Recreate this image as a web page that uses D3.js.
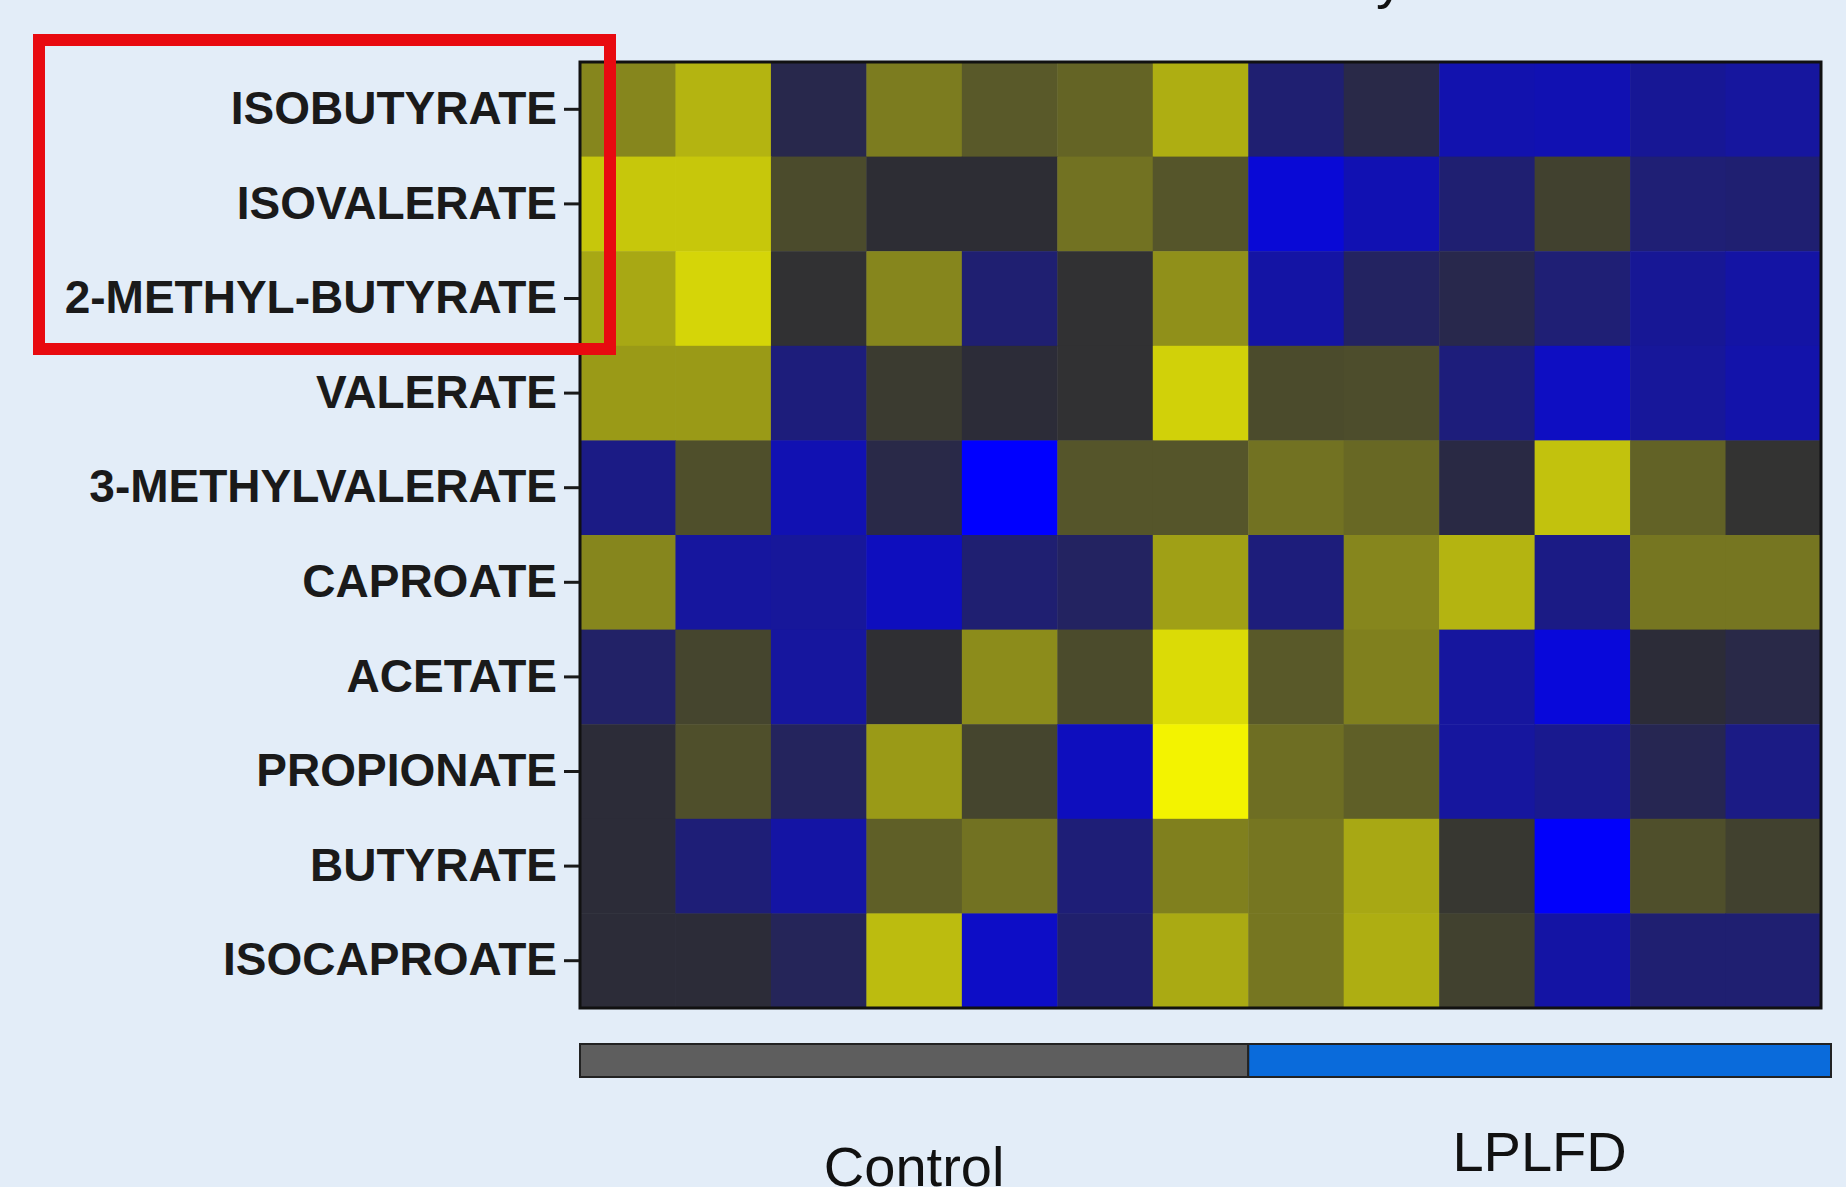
<!DOCTYPE html>
<html>
<head>
<meta charset="utf-8">
<script src="https://cdn.jsdelivr.net/npm/d3@7"></script>
<style>
  html, body { margin: 0; padding: 0; background: #e3edf8; }
  svg { display: block; }
  .axis text { font-family: Arial, "Liberation Sans", sans-serif; font-weight: bold; font-size: 46px; fill: #1a1a1a; }
  .axis line { stroke: #1a1a1a; stroke-width: 3; }
  .group-label { font-family: Arial, "Liberation Sans", sans-serif; font-size: 56px; fill: #111; }
</style>
</head>
<body>
<div id="chart"></div>
<script>
// rows (metabolites), top to bottom
var metabolites = ['ISOBUTYRATE', 'ISOVALERATE', '2-METHYL-BUTYRATE', 'VALERATE', '3-METHYLVALERATE',
  'CAPROATE', 'ACETATE', 'PROPIONATE', 'BUTYRATE', 'ISOCAPROATE']

// columns (samples), left to right
var samples = ['C1', 'C2', 'C3', 'C4', 'C5', 'C6', 'C7', 'L1', 'L2', 'L3', 'L4', 'L5', 'L6']

// group bar under the heatmap
var groupNames = ['Control', 'LPLFD']
var groupSizes = [7, 6]

// relative abundance per metabolite (one array per row)
var isobutyrate = [0.45, 0.68, -0.12, 0.40, 0.22, 0.28, 0.65, -0.30, -0.10, -0.60, -0.62, -0.48, -0.52]
var isovalerate = [0.78, 0.78, 0.15, 0.00, 0.00, 0.35, 0.20, -0.80, -0.62, -0.30, 0.10, -0.32, -0.30]
var methylButyrate = [0.62, 0.85, 0.02, 0.45, -0.30, 0.02, 0.50, -0.55, -0.22, -0.12, -0.32, -0.48, -0.55]
var valerate = [0.55, 0.55, -0.35, 0.07, -0.02, 0.02, 0.83, 0.15, 0.16, -0.35, -0.70, -0.50, -0.58]
var methylValerate = [-0.40, 0.17, -0.62, -0.10, -1.00, 0.20, 0.20, 0.35, 0.30, -0.08, 0.75, 0.27, 0.03]
var caproate = [0.45, -0.52, -0.50, -0.68, -0.30, -0.22, 0.58, -0.35, 0.45, 0.68, -0.40, 0.37, 0.37]
var acetate = [-0.25, 0.12, -0.52, 0.01, 0.48, 0.15, 0.88, 0.22, 0.42, -0.52, -0.82, -0.02, -0.10]
var propionate = [-0.02, 0.17, -0.20, 0.55, 0.12, -0.68, 1.00, 0.33, 0.25, -0.52, -0.45, -0.15, -0.40]
var butyrate = [-0.02, -0.33, -0.55, 0.25, 0.35, -0.33, 0.42, 0.37, 0.62, 0.05, -0.98, 0.17, 0.10]
var isocaproate = [-0.02, -0.02, -0.18, 0.72, -0.72, -0.28, 0.63, 0.37, 0.65, 0.10, -0.55, -0.30, -0.30]

var rows = [isobutyrate, isovalerate, methylButyrate, valerate, methylValerate,
  caproate, acetate, propionate, butyrate, isocaproate]

var width = 1846
var height = 1187
var margin = {top: 62, right: 25, bottom: 179, left: 580}

var cells = []
rows.forEach(function (vals, r) {
  vals.forEach(function (v, c) {
    cells.push({row: metabolites[r], sample: samples[c], value: v})
  })
})

var svg = d3.select('#chart').append('svg')
    .attr('width', width)
    .attr('height', height)

var x = d3.scaleBand()
    .domain(samples)
    .range([margin.left, width - margin.right])

var y = d3.scaleBand()
    .domain(metabolites)
    .range([margin.top, height - margin.bottom])

var color = d3.scaleLinear()
    .domain([-1, 0, 1])
    .range(['#0000ff', '#2d2d34', '#f3f300'])
    .clamp(true)

// title, almost entirely above the visible area
svg.append('text')
    .attr('x', 1376)
    .attr('y', -3)
    .attr('class', 'group-label')
    .text('y')

/*
    heatmap cells
*/
svg.append('g')
    .selectAll('rect')
    .data(cells)
    .join('rect')
    .attr('x', d => x(d.sample))
    .attr('y', d => y(d.row))
    .attr('width', x.bandwidth() + 0.5)
    .attr('height', y.bandwidth() + 0.5)
    .attr('fill', d => color(d.value))

svg.append('rect')
    .attr('x', x.range()[0])
    .attr('y', y.range()[0])
    .attr('width', x.range()[1] - x.range()[0])
    .attr('height', y.range()[1] - y.range()[0])
    .attr('fill', 'none')
    .attr('stroke', '#111')
    .attr('stroke-width', 3)

var yAxis = svg.append('g')
    .attr('class', 'axis')
    .attr('transform', `translate(${x.range()[0] - 1}, 0)`)
    .call(d3.axisLeft(y).tickSize(15).tickPadding(7))
yAxis.select('.domain').remove()

/*
    group bar
*/
var starts = [0]
groupSizes.forEach((n, i) => starts.push(starts[i] + n))

var groups = groupNames.map((name, i) => ({
  name: name,
  x0: x(samples[starts[i]]),
  x1: i === groupNames.length - 1 ? x.range()[1] + 10 : x(samples[starts[i + 1]])
}))

var groupColor = d3.scaleOrdinal()
    .domain(groupNames)
    .range(['#5e5e5e', '#0a6bdb'])

svg.append('g')
    .selectAll('rect')
    .data(groups)
    .join('rect')
    .attr('x', d => d.x0)
    .attr('y', 1044)
    .attr('width', d => d.x1 - d.x0)
    .attr('height', 33)
    .attr('fill', d => groupColor(d.name))
    .attr('stroke', '#222')
    .attr('stroke-width', 2)

var labelY = {Control: 1186, LPLFD: 1171}
svg.append('g')
    .selectAll('text')
    .data(groups)
    .join('text')
    .attr('class', 'group-label')
    .attr('x', d => (d.x0 + d.x1) / 2)
    .attr('y', d => labelY[d.name])
    .attr('text-anchor', 'middle')
    .text(d => d.name)

// annotation box round the first three labels, drawn over the heatmap edge
svg.append('rect')
    .attr('x', 39)
    .attr('y', 40)
    .attr('width', 571)
    .attr('height', 309)
    .attr('fill', 'none')
    .attr('stroke', '#e80a10')
    .attr('stroke-width', 12)
</script>
</body>
</html>
